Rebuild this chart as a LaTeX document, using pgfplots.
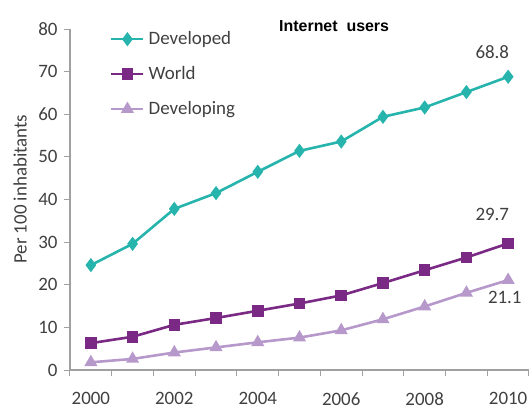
\documentclass[border=0pt]{standalone}
\usepackage{fontspec}
\setmainfont{Carlito}
\newfontfamily\titlefont{Liberation Sans}
\usepackage{pgfplots}
\pgfplotsset{compat=1.18}
\definecolor{devd}{RGB}{38,180,172}
\definecolor{world}{RGB}{122,42,132}
\definecolor{devg}{RGB}{182,152,202}
\definecolor{txt}{RGB}{64,64,64}
\definecolor{axl}{RGB}{160,160,160}
\begin{document}
\fontsize{19}{22}\selectfont
\begin{tikzpicture}
\begin{axis}[
  scale only axis, width=459bp, height=341bp,
  xmin=1999.5, xmax=2010.5, ymin=0, ymax=80,
  clip=false,
  axis x line=bottom, axis y line=left,
  axis line style={axl, line width=1.2bp, -},
  xtick={1999.5,2000.5,...,2010.5}, xticklabels={},
  extra x ticks={2000,2002,2004,2006,2008,2010},
  extra x tick labels={2000,2002,2004,2006,2008,2010},
  extra x tick style={major tick length=0pt, tick label style={yshift=-16bp}},
  ytick={0,10,...,80},
  tick style={axl, line width=1bp},
  major tick length=6bp, tick align=outside,
  /pgf/number format/assume math mode=true,
  tick label style={text=txt, font=\fontsize{19}{22}\selectfont},
  ylabel={Per 100 inhabitants},
  ylabel style={at={(rel axis cs:0,0.53)}, yshift=50bp, anchor=center, text=txt, font=\fontsize{19}{22}\selectfont},
  legend cell align=left,
  legend style={at={(rel axis cs:0.087,1.0)}, anchor=north west, draw=none, fill=none,
    inner sep=0pt, row sep=15bp, text=txt, font=\fontsize{19}{22}\selectfont,
    nodes={inner xsep=4bp}},
  legend image code/.code={\draw[mark repeat=2,mark phase=2,#1] plot coordinates {(0bp,0bp) (16bp,0bp) (32bp,0bp)};},
]
\addplot[devd, line width=2.6bp, mark=diamond*, mark size=5bp] coordinates {
(2000,24.6) (2001,29.6) (2002,37.8) (2003,41.5) (2004,46.5) (2005,51.4) (2006,53.6) (2007,59.4) (2008,61.6) (2009,65.2) (2010,68.8)};
\addlegendentry{Developed}
\addplot[world, line width=2.6bp, mark=square*, mark size=4.5bp] coordinates {
(2000,6.3) (2001,7.8) (2002,10.6) (2003,12.2) (2004,13.9) (2005,15.6) (2006,17.5) (2007,20.4) (2008,23.4) (2009,26.4) (2010,29.7)};
\addlegendentry{World}
\addplot[devg, line width=2.6bp, mark=triangle*, mark size=5bp] coordinates {
(2000,1.8) (2001,2.6) (2002,4.1) (2003,5.3) (2004,6.5) (2005,7.6) (2006,9.3) (2007,11.9) (2008,14.9) (2009,18.1) (2010,21.1)};
\addlegendentry{Developing}
\node[text=txt] at (axis cs:2009.62,74.6) {68.8};
\node[text=txt] at (axis cs:2009.62,36.6) {29.7};
\node[text=txt] at (axis cs:2009.92,17.1) {21.1};
\node[font=\titlefont\bfseries\fontsize{16}{18}\selectfont] at (axis cs:2005.83,80.6) {Internet~ users};
\end{axis}
\pgfresetboundingbox
\path (-70bp,-39bp) rectangle (459bp,370bp);
\end{tikzpicture}
\end{document}
